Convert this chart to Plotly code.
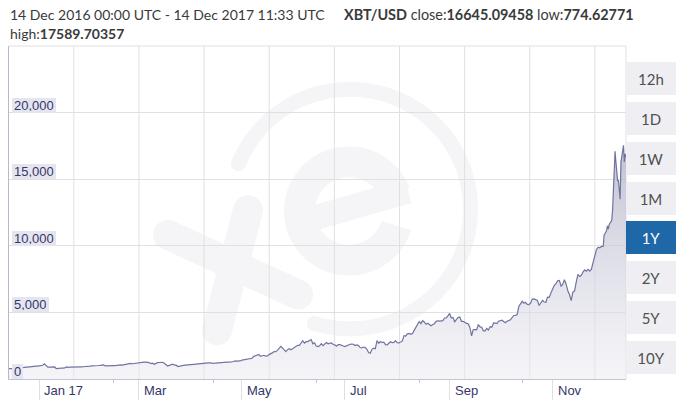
import numpy as np
import pandas as pd
import plotly.graph_objects as go

# ---------------- data ----------------
dec16 = [778, 775, 785, 790, 790, 792, 800, 834, 860, 918, 892, 890, 905, 930, 975, 972, 960, 963]
jan17 = [995, 1017, 1033, 1135, 990, 886, 894, 906, 900, 905, 785, 810, 823, 818, 822, 830, 905, 870,
         898, 893, 920, 920, 922, 893, 890, 915, 918, 920, 914, 920, 967]
feb17 = [984, 1005, 1015, 1030, 1013, 1024, 1050, 1053, 978, 995, 1008, 999, 995, 1010, 1010, 1034,
         1050, 1054, 1048, 1080, 1117, 1117, 1174, 1173, 1145, 1170, 1190, 1189]
mar17 = [1222, 1260, 1285, 1265, 1273, 1277, 1233, 1150, 1187, 1105, 1192, 1230, 1240, 1245, 1255,
         1175, 1070, 970, 1020, 1045, 1115, 1040, 1035, 935, 965, 970, 1045, 1045, 1040, 1035, 1080]
apr17 = [1085, 1100, 1145, 1140, 1130, 1190, 1190, 1180, 1205, 1208, 1215, 1207, 1170, 1180, 1185,
         1183, 1203, 1211, 1222, 1255, 1255, 1240, 1250, 1255, 1280, 1310, 1360, 1345, 1350, 1355]
may17 = [1420, 1450, 1490, 1510, 1520, 1560, 1560, 1700, 1730, 1780, 1840, 1700, 1770, 1780, 1720,
         1730, 1830, 1880, 1960, 2050, 2050, 2150, 2280, 2450, 2330, 2150, 2050, 2200, 2280, 2200, 2300]
jun17 = [2400, 2480, 2530, 2520, 2700, 2870, 2690, 2800, 2810, 2900, 2960, 2640, 2720, 2480, 2430,
         2500, 2650, 2510, 2600, 2740, 2640, 2700, 2710, 2590, 2560, 2460, 2590, 2580, 2550, 2480]
jul17 = [2430, 2500, 2560, 2610, 2620, 2610, 2510, 2560, 2510, 2360, 2330, 2400, 2360, 2230, 1980,
         1930, 2230, 2320, 2280, 2880, 2680, 2810, 2740, 2760, 2580, 2560, 2680, 2800, 2730, 2750, 2880]
aug17 = [2720, 2710, 2800, 2860, 3250, 3220, 3390, 3420, 3350, 3420, 3650, 3850, 4060, 4320, 4160,
         4380, 4280, 4110, 4190, 4080, 4000, 4090, 4150, 4330, 4370, 4350, 4350, 4380, 4580, 4580, 4740]
sep17 = [4920, 4580, 4620, 4300, 4490, 4620, 4650, 4330, 4330, 4220, 4180, 4150, 3870, 3240, 3710,
         3700, 3690, 4090, 3910, 3880, 3620, 3620, 3790, 3670, 3930, 3890, 4210, 4190, 4160, 4340]
oct17 = [4400, 4410, 4320, 4220, 4330, 4370, 4440, 4610, 4770, 4780, 4830, 5440, 5640, 5830, 5690,
         5760, 5600, 5590, 5710, 6000, 6010, 5980, 5900, 5520, 5750, 5900, 5780, 5760, 6150, 6130, 6450]
nov17 = [6740, 7030, 7160, 7380, 7400, 6980, 7100, 7450, 7140, 6620, 6340, 5880, 6530, 6600, 7280,
         7850, 7700, 7780, 8030, 8200, 8100, 8230, 8100, 8240, 8750, 9300, 9730, 9900, 9850, 9950]
# December 2017, twice a day (00:00 / 12:00), 1 Dec -> 14 Dec 00:00
dec17_12h = [9950, 10800, 10900, 10950, 11150, 11500, 11250, 11600, 11700, 11800, 11900, 12600,
             14000, 15500, 17100, 16300, 15600, 14900, 14900, 14200, 13500, 16300, 16800, 17200,
             17550, 16300, 16900]
last_time = "2017-12-14 11:33"
CLOSE, LOW, HIGH = "16645.09458", "774.62771", "17589.70357"

daily = dec16 + jan17 + feb17 + mar17 + apr17 + may17 + jun17 + jul17 + aug17 + sep17 + oct17 + nov17
t_daily = pd.date_range("2016-12-14", periods=len(daily), freq="D")
t_dec = pd.date_range("2017-12-01", periods=len(dec17_12h), freq="12h")
times = list(t_daily) + list(t_dec) + [pd.Timestamp(last_time)]
prices = daily + dec17_12h + [float(CLOSE)]

y_ticks = [0, 5000, 10000, 15000, 20000]
y_labels = ["0", "5,000", "10,000", "15,000", "20,000"]
x_ticks = ["2017-01-01", "2017-03-01", "2017-05-01", "2017-07-01", "2017-09-01", "2017-11-01"]
x_labels = ["Jan 17", "Mar", "May", "Jul", "Sep", "Nov"]
x_minor = ["2017-02-14", "2017-04-14", "2017-06-14", "2017-08-14", "2017-10-14"]
buttons = ["12h", "1D", "1W", "1M", "1Y", "2Y", "5Y", "10Y"]
selected = "1Y"

# ---------------- layout geometry (page pixels) ----------------
FW, FH = 683, 408
L, T, R, B = 9, 46, 626, 381       # plot area
W, H = R - L, B - T
NAVY = "#36366a"
GRID = "#e0e0e0"
LOGO = "#f5f5f8"


def P(x, y):
    return (x - L) / W, (B - y) / H


def path(pts):
    pp = [P(x, y) for x, y in pts]
    return "M " + " L ".join(f"{a:.5f},{b:.5f}" for a, b in pp) + " Z"


def arc_band(cx, cy, r0, r1, a0, a1, caps=True, n=140):
    th = np.radians(np.linspace(a0, a1, n))
    outer = [(cx + r1 * np.cos(t), cy - r1 * np.sin(t)) for t in th]
    inner = [(cx + r0 * np.cos(t), cy - r0 * np.sin(t)) for t in th[::-1]]
    rm, rc = (r0 + r1) / 2, (r1 - r0) / 2
    pts = list(outer)
    if caps:
        c = (cx + rm * np.cos(th[-1]), cy - rm * np.sin(th[-1]))
        for a in np.radians(np.linspace(a1, a1 - 180, 16)):
            pts.append((c[0] + rc * np.cos(a), c[1] - rc * np.sin(a)))
    pts += inner
    if caps:
        c = (cx + rm * np.cos(th[0]), cy - rm * np.sin(th[0]))
        for a in np.radians(np.linspace(a0 + 180, a0, 16)):
            pts.append((c[0] + rc * np.cos(a), c[1] - rc * np.sin(a)))
    return pts


def capsule(p1, p2, w, round_ends=True, n=16):
    ang = np.arctan2(p2[1] - p1[1], p2[0] - p1[0])
    r = w / 2
    if not round_ends:
        nx, ny = -np.sin(ang) * r, np.cos(ang) * r
        return [(p1[0] + nx, p1[1] + ny), (p2[0] + nx, p2[1] + ny),
                (p2[0] - nx, p2[1] - ny), (p1[0] - nx, p1[1] - ny)]
    pts = []
    for a in np.linspace(ang - np.pi / 2, ang + np.pi / 2, n):
        pts.append((p2[0] + r * np.cos(a), p2[1] + r * np.sin(a)))
    for a in np.linspace(ang + np.pi / 2, ang + 3 * np.pi / 2, n):
        pts.append((p1[0] + r * np.cos(a), p1[1] + r * np.sin(a)))
    return pts


shapes = []
# faint "xe" watermark
logo_parts = [
    arc_band(350, 210, 113, 128, 157.7, -107.3, caps=True),
    arc_band(349, 212, 34, 65, 343, 21, caps=False),
    capsule((314, 219), (408, 192), 25, round_ends=False),
    capsule((248, 211), (217, 332), 30),
    capsule((168, 236), (298, 296), 30),
]
for part in logo_parts:
    shapes.append(dict(type="path", xref="paper", yref="paper", path=path(part),
                       fillcolor=LOGO, line=dict(width=0), layer="below"))

# vertical grid lines (independent of month ticks)
grid_x = pd.date_range("2017-01-21 09:36", periods=9, freq=pd.Timedelta(days=38.58))
for gx in grid_x:
    shapes.append(dict(type="line", xref="x", yref="paper", x0=gx, x1=gx, y0=0, y1=1,
                       line=dict(color=GRID, width=1), layer="below"))
# top and right border
shapes.append(dict(type="line", xref="paper", yref="paper", x0=0, x1=1, y0=1, y1=1,
                   line=dict(color=GRID, width=1), layer="below"))
shapes.append(dict(type="line", xref="paper", yref="paper", x0=1, x1=1, y0=0, y1=1,
                   line=dict(color=GRID, width=1), layer="below"))

fig = go.Figure()
fig.add_trace(go.Scatter(
    x=times, y=prices, mode="lines",
    line=dict(color="#7074a0", width=1.2),
    fill="tozeroy",
    fillgradient=dict(type="vertical",
                      colorscale=[[0, "rgba(235,235,241,0.5)"], [1, "rgba(178,179,201,0.8)"]]),
    hoverinfo="skip",
))

annotations = []
# y labels (inside plot, boxed)
for v, lab in zip(y_ticks, y_labels):
    annotations.append(dict(x=0, xref="paper", y=v, yref="y", text=lab, showarrow=False,
                            xanchor="left", yanchor="bottom", xshift=2.5,
                            font=dict(family="Liberation Sans, Arial", size=13, color=NAVY),
                            bgcolor="#e5e5f0", borderpad=2, borderwidth=0, height=11))
# x labels (left-aligned right of each tick)
for v, lab in zip(x_ticks, x_labels):
    annotations.append(dict(x=v, xref="x", y=0, yref="paper", text=lab, showarrow=False,
                            xanchor="left", yanchor="top", xshift=3, yshift=-2,
                            font=dict(family="Liberation Sans, Arial", size=13, color=NAVY)))
# header
hdr_font = dict(family="Lato, Open Sans", size=14, color="#3a3a3a")
annotations.append(dict(x=P(9, 0)[0], y=P(0, 14.5)[1], xref="paper", yref="paper", xshift=-1,
                        text="14 Dec 2016 00:00 UTC - 14 Dec 2017 11:33 UTC",
                        showarrow=False, xanchor="left", yanchor="middle", font=hdr_font))
annotations.append(dict(x=P(343, 0)[0], y=P(0, 14.5)[1], xref="paper", yref="paper", xshift=-1,
                        text=f"<b>XBT/USD</b> close:<b>{CLOSE}</b> low:<b>{LOW}</b>",
                        showarrow=False, xanchor="left", yanchor="middle",
                        font=dict(family="Lato, Open Sans", size=14.4, color="#3a3a3a")))
annotations.append(dict(x=P(9, 0)[0], y=P(0, 33.5)[1], xref="paper", yref="paper", xshift=-1,
                        text=f"high:<b>{HIGH}</b>",
                        showarrow=False, xanchor="left", yanchor="middle", font=hdr_font))
# range buttons
for i, b in enumerate(buttons):
    sel = b == selected
    cx, cy = P(651, 79 + 40 * i)
    annotations.append(dict(x=cx, y=cy, xref="paper", yref="paper", text=b, showarrow=False,
                            xanchor="center", yanchor="middle", width=50, height=33,
                            borderpad=0, borderwidth=0,
                            bgcolor="#1f68a8" if sel else "#efeff3",
                            font=dict(family="Lato, Open Sans", size=15,
                                      color="#ffffff" if sel else "#505050")))

fig.update_layout(
    width=FW, height=FH,
    margin=dict(l=L, r=FW - R, t=T, b=FH - B, pad=0),
    paper_bgcolor="white", plot_bgcolor="white",
    showlegend=False,
    shapes=shapes, annotations=annotations,
    xaxis=dict(type="date", range=["2016-12-14 00:00", last_time],
               showgrid=False, zeroline=False,
               showline=True, linecolor="#c2c2dc", linewidth=1,
               tickmode="array", tickvals=x_ticks, showticklabels=False,
               ticks="outside", ticklen=20, tickcolor="#e0e0e0", tickwidth=1,
               minor=dict(tickmode="array", tickvals=x_minor, ticks="outside", ticklen=3,
                          tickcolor="#c2c2dc", showgrid=False),
               fixedrange=True),
    yaxis=dict(range=[0, 25000], tickmode="array", tickvals=y_ticks + [25000],
               showgrid=True, gridcolor=GRID, gridwidth=1,
               showticklabels=False, ticks="", zeroline=False,
               showline=True, linecolor="#b8b8cc", linewidth=1, fixedrange=True),
)

# the page body has a default 8px margin; remove it so the figure fills the window exactly
fig.write_html("out.html", config={"displayModeBar": False},
               post_script="document.body.style.margin='0';")
